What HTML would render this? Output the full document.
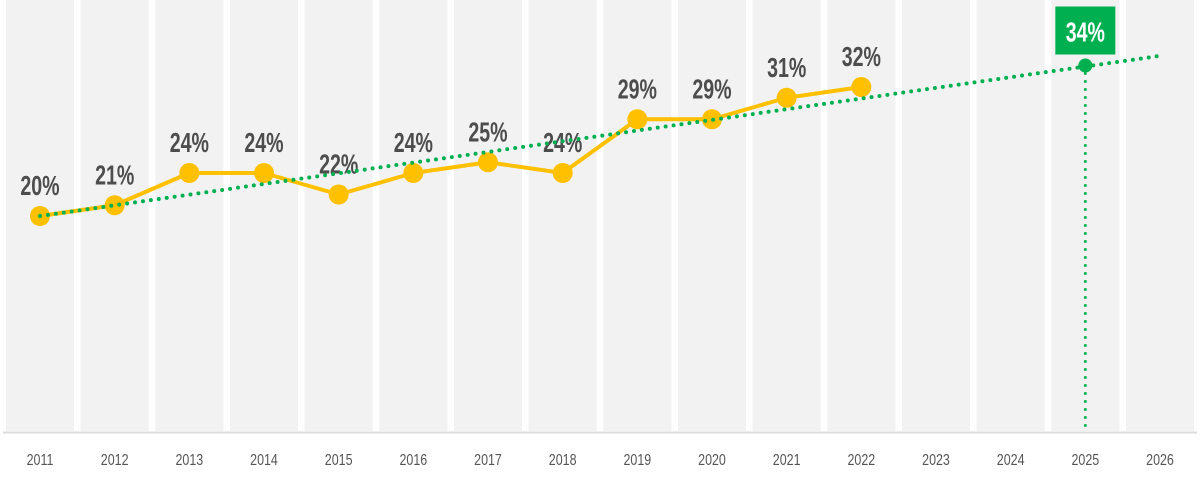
<!DOCTYPE html>
<html><head><meta charset="utf-8"><style>
html,body{margin:0;padding:0;background:#fff;}
svg{display:block;font-family:"Liberation Sans Narrow","Liberation Sans",sans-serif;}
</style></head><body>
<svg id="chart" width="1200" height="482" viewBox="0 0 1200 482" xmlns="http://www.w3.org/2000/svg"></svg>
<script>
const years = ["2011","2012","2013","2014","2015","2016","2017","2018","2019","2020","2021","2022","2023","2024","2025","2026"];
const actualValues = [20,21,24,24,22,24,25,24,29,29,31,32];
const actualLabels = ["20%","21%","24%","24%","22%","24%","25%","24%","29%","29%","31%","32%"];
const trendEnds = [20,34.9];
const projectionIndex = 14;
const projectionValue = 34;
const projectionLabel = "34%";

const NS="http://www.w3.org/2000/svg";
const svg=document.getElementById('chart');
const x0=40, step=(1160-40)/15, baseY=431, pxPer=10.75;
const xs=i=>x0+i*step;
const ys=v=>baseY-v*pxPer;
function mk(tag,attrs,parent){const e=document.createElementNS(NS,tag);for(const k in attrs)e.setAttribute(k,attrs[k]);(parent||svg).appendChild(e);return e;}
function txt(x,y,sx,attrs){return mk('text',Object.assign({x:0,y:0,'text-anchor':'middle',transform:'translate('+x+','+y+') scale('+sx+',1)'},attrs));}

years.forEach((y,i)=>{
  const b=mk('rect',{x:xs(i)-34,y:0,width:68,height:baseY,fill:'#f2f2f2'});
  
  
  const t=txt(xs(i),465,0.78,{'font-size':16,fill:'#555'});
  t.textContent=y;
  
  
});
const base=mk('line',{x1:3,x2:1197,y1:baseY+1.5,y2:baseY+1.5,stroke:'#dcdcdc','stroke-width':2});



const pts=actualValues.map((v,i)=>xs(i)+','+ys(v)).join(' ');
const line=mk('polyline',{points:pts,fill:'none',stroke:'#ffc000','stroke-width':4,'stroke-linejoin':'round'});



const tr=mk('line',{x1:xs(0),y1:ys(trendEnds[0]),x2:xs(15),y2:ys(trendEnds[1]),stroke:'#00b050','stroke-width':4,'stroke-dasharray':'0 8','stroke-linecap':'round'});



actualValues.forEach((v,i)=>{
  const c=mk('circle',{cx:xs(i),cy:ys(v),r:10,fill:'#ffc000'});
  
  
  const t=txt(xs(i),ys(v)-21,0.7,{'font-size':28,'font-weight':'bold',fill:'#4d4d4d'});
  t.textContent=actualLabels[i];
  
  
});
svg.appendChild(tr);

const px=xs(projectionIndex), py=ys(projectionValue);
const vl=mk('line',{x1:px,y1:py,x2:px,y2:baseY,stroke:'#00b050','stroke-width':3,'stroke-dasharray':'0 8','stroke-linecap':'round'});


const pc=mk('circle',{cx:px,cy:py,r:7,fill:'#00b050'});


const box=mk('rect',{x:px-30,y:py-59,width:60,height:48,fill:'#00b050'});


const pt=txt(px,py-24,0.7,{'font-size':28,'font-weight':'bold',fill:'#fff'});
pt.textContent=projectionLabel;


</script>
</body></html>
